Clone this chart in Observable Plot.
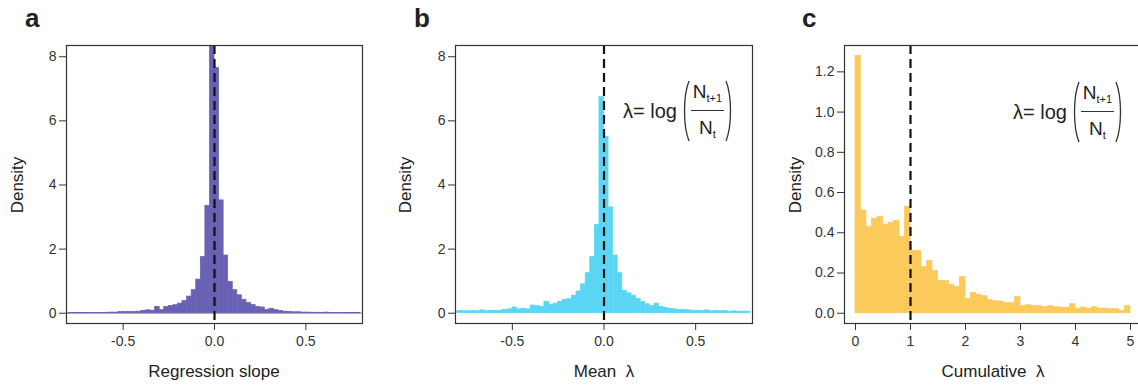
<!DOCTYPE html>
<html><head><meta charset="utf-8">
<script src="https://cdn.jsdelivr.net/npm/d3@7"></script>
<script src="https://cdn.jsdelivr.net/npm/@observablehq/plot@0.6"></script>
<style>
html,body{margin:0;padding:0;background:#fff;overflow:hidden;width:1138px;height:386px;}
body{position:relative;font-family:'Liberation Sans',Arial,sans-serif;color:#222;}
.panel{position:absolute;top:0;}
.letter{position:absolute;top:5px;font-weight:bold;font-size:26px;line-height:26px;}
.xtitle{position:absolute;font-size:17px;line-height:20px;white-space:pre;transform:translate(-50%,-50%);}
.ytitle{position:absolute;font-size:17px;line-height:20px;white-space:pre;transform:translate(-50%,-50%) rotate(-90deg);}
.formula{position:absolute;display:flex;align-items:center;height:62px;}
.formula .lhs{font-size:20px;line-height:24px;margin-right:5px;white-space:pre;}
.formula svg path{fill:none;stroke:#333;stroke-width:1.3;}
.frac{position:relative;width:33px;height:62px;margin:0 1px;}
.frac .num,.frac .den{position:absolute;left:0;width:100%;text-align:center;font-size:19px;line-height:20px;white-space:nowrap;}
.frac .num{top:2px;}
.frac .den{top:38px;}
.frac sub{font-size:11px;vertical-align:-4px;line-height:0;}
.frac .bar{position:absolute;left:0;top:30px;width:100%;border-top:1px solid #333;}
</style></head>
<body>
<script>
// ---- data ----
// Panel a: regression slope histogram (bins of width 0.025 starting at -0.8)
const slopeBinStart = -0.8;
const slopeBinWidth = 0.025;
const slopeDensity = [
  0.005,0.005,0.008,0.01,0.005,0.01,0.012,0.01,0.015,0.02,
  0.02,0.035,0.04,0.035,0.04,0.05,0.07,0.09,0.08,0.2,
  0.1,0.2,0.23,0.25,0.3,0.38,0.52,0.72,1.05,1.75,
  3.35,9.0,
  7.65,3.52,1.8,0.98,0.72,0.56,0.42,0.32,0.26,0.2,
  0.18,0.1,0.14,0.1,0.07,0.05,0.04,0.03,0.03,0.02,
  0.02,0.015,0.015,0.01,0.02,0.01,0.01,0.005,0.01,0.005,
  0.005,0.005
];
// Panel b: mean lambda histogram (bins of width 0.025 starting at -0.8)
const meanBinStart = -0.8;
const meanBinWidth = 0.025;
const meanDensity = [
  0.07,0.06,0.06,0.07,0.06,0.09,0.07,0.08,0.07,0.08,
  0.1,0.12,0.18,0.12,0.14,0.12,0.24,0.22,0.2,0.36,
  0.26,0.3,0.36,0.42,0.44,0.55,0.68,0.9,1.25,1.75,
  2.75,6.74,
  5.5,3.3,1.8,1.25,0.7,0.62,0.55,0.45,0.35,0.28,
  0.22,0.3,0.2,0.16,0.14,0.12,0.1,0.1,0.09,0.08,
  0.08,0.07,0.09,0.06,0.07,0.06,0.07,0.05,0.06,0.05,
  0.05,0.05
];
// Panel c: cumulative lambda histogram (bins of width 0.1 starting at 0)
const cumBinStart = 0;
const cumBinWidth = 0.1;
const cumDensity = [
  1.28,0.51,0.43,0.47,0.48,0.44,0.45,0.46,0.38,0.53,
  0.31,0.31,0.23,0.26,0.21,0.16,0.16,0.14,0.13,0.18,
  0.07,0.1,0.09,0.085,0.065,0.06,0.058,0.05,0.05,0.08,
  0.035,0.04,0.035,0.035,0.03,0.035,0.03,0.028,0.028,0.045,
  0.023,0.028,0.023,0.03,0.023,0.023,0.02,0.02,0.012,0.035
];
const xTicksAB = [-0.5, 0, 0.5];
const yTicksAB = [0, 2, 4, 6, 8];
const xTicksC = [0, 1, 2, 3, 4, 5];
const yTicksC = [0, 0.2, 0.4, 0.6, 0.8, 1.0, 1.2];
const refLines = {a: 0, b: 0, c: 1};

function table(start, width, values) {
  return values.map((v, i) => ({x1: start + i * width, x2: start + (i + 1) * width, y1: 0, y2: v}));
}

function panel(o) {
  const data = table(o.start, o.width, o.values);
  const marks = [];
  if (o.baseline) marks.push(Plot.ruleY([0], {stroke: o.baseline, strokeWidth: 1}));
  marks.push(
    Plot.rect(data, {x1: "x1", x2: "x2", y1: "y1", y2: "y2", fill: o.fill, stroke: o.fill, strokeWidth: 0.7, clip: true}),
    Plot.ruleX([o.ref], {stroke: "#111", strokeWidth: 2.2, strokeDasharray: "9,5"}),
    Plot.frame({stroke: "#333", strokeWidth: 1.2}),
    Plot.axisX({ticks: o.xTicks, tickFormat: o.xFmt, tickSize: 7, tickPadding: 6, label: null, stroke: "#333", fill: "#333"}),
    Plot.axisY({ticks: o.yTicks, tickFormat: o.yFmt, tickSize: 7, tickPadding: 3, label: null, stroke: "#333", fill: "#333"})
  );
  const p = Plot.plot({
    width: o.w, height: 386,
    marginLeft: o.ml, marginRight: o.mr, marginTop: 45, marginBottom: 63,
    x: {domain: o.xDomain},
    y: {domain: o.yDomain},
    style: {fontSize: "14px", fontFamily: "'Liberation Sans', Arial, sans-serif", background: "transparent", overflow: "visible"},
    marks
  });
  p.classList.add("panel");
  p.style.left = o.left + "px";
  document.body.appendChild(p);
}

panel({left: 0, w: 380, ml: 66, mr: 18, start: slopeBinStart, width: slopeBinWidth, values: slopeDensity,
  fill: "#6861b4", baseline: "#9a9a9a", ref: refLines.a, xDomain: [-0.81, 0.81], yDomain: [-0.32, 8.35],
  xTicks: xTicksAB, xFmt: d => d.toFixed(1), yTicks: yTicksAB, yFmt: d => String(d)});
panel({left: 380, w: 380, ml: 75, mr: 8, start: meanBinStart, width: meanBinWidth, values: meanDensity,
  fill: "#5ad6f4", ref: refLines.b, xDomain: [-0.81, 0.81], yDomain: [-0.32, 8.35],
  xTicks: xTicksAB, xFmt: d => d.toFixed(1), yTicks: yTicksAB, yFmt: d => String(d)});
panel({left: 758, w: 390, ml: 86, mr: 7, start: cumBinStart, width: cumBinWidth, values: cumDensity,
  fill: "#fcc95b", ref: refLines.c, xDomain: [-0.2, 5.2], yDomain: [-0.051, 1.331],
  xTicks: xTicksC, xFmt: d => String(d), yTicks: yTicksC, yFmt: d => d.toFixed(1)});

// ---- text ----
function addDiv(cls, text, x, y) {
  const d = document.createElement("div");
  d.className = cls; d.textContent = text;
  d.style.left = x + "px"; d.style.top = y + "px";
  document.body.appendChild(d);
}
addDiv("letter", "a", 25, 5);
addDiv("letter", "b", 414, 5);
addDiv("letter", "c", 802, 5);
addDiv("xtitle", "Regression slope", 214, 372);
addDiv("xtitle", "Mean  λ", 604, 372);
addDiv("xtitle", "Cumulative  λ", 993, 372);
addDiv("ytitle", "Density", 17.5, 185);
addDiv("ytitle", "Density", 405.5, 185);
addDiv("ytitle", "Density", 795.5, 185);

function addFormula(x, y) {
  const f = document.createElement("div");
  f.className = "formula";
  f.style.left = x + "px"; f.style.top = y + "px";
  f.innerHTML = '<span class="lhs">λ= log</span>' +
    '<svg width="8" height="62"><path d="M7,1 C1,16 1,46 7,61"/></svg>' +
    '<div class="frac"><div class="num">N<sub>t+1</sub></div><div class="bar"></div><div class="den">N<sub>t</sub></div></div>' +
    '<svg width="8" height="62"><path d="M1,1 C7,16 7,46 1,61"/></svg>';
  document.body.appendChild(f);
}
addFormula(623, 80);
addFormula(1013, 81);
</script>
</body></html>
